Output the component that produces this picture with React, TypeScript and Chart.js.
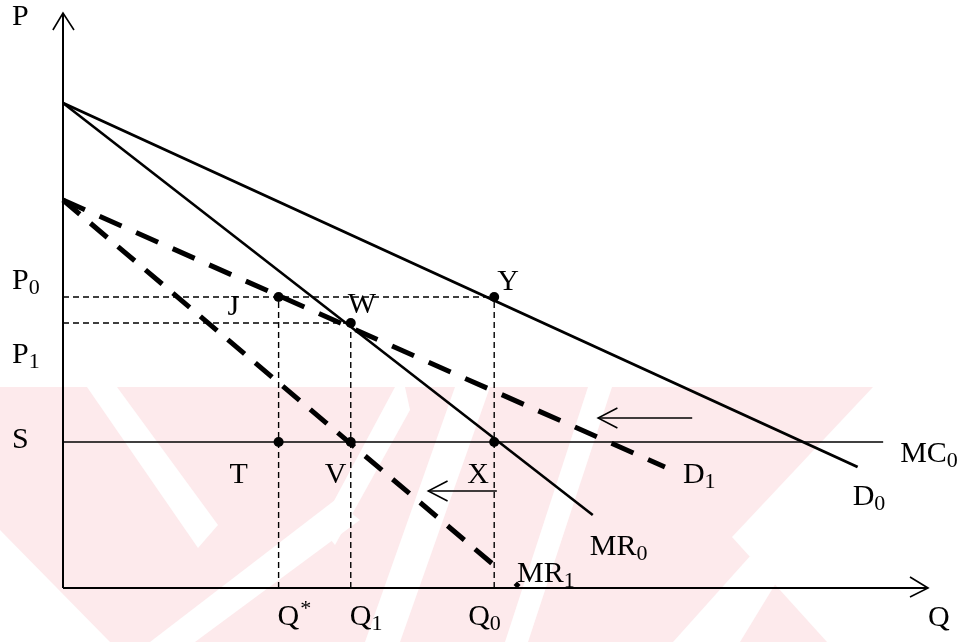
import React, { useEffect, useRef } from "react";
import { Chart, registerables } from "chart.js";

Chart.register(...registerables);

// ---- values (Q horizontal units, P vertical units) ----
const axisTopP = 115;
const axisEndQ = 98.3;
const pLevels = [58.2, 53.0, 29.2]; // P0, P1, S
const pLevelNames = ["P0", "P1", "S"];
const qLevels = [24.5, 32.7, 49.0]; // Q*, Q1, Q0
const qLevelNames = ["Q*", "Q1", "Q0"];
const curveNames = ["D0", "MR0", "D1", "MR1"];
const curveStartP = [97.0, 97.0, 77.6, 77.6];
const curveEndQ = [90.3, 60.2, 68.4, 49.9];
const curveEndP = [24.2, 14.6, 24.2, 3.2];
const mcEndQ = 93.2;
const pointNames = ["J", "W", "Y", "T", "V", "X"];
const pointQ = [24.5, 32.7, 49.0, 24.5, 32.7, 49.0];
const pointP = [58.2, 53.0, 58.2, 29.2, 29.2, 29.2];
const shiftArrowFromQ = [71.5, 49.3];
const shiftArrowToQ = [60.8, 41.5];
const shiftArrowP = [34.0, 19.4];
const markQ = 51.6;
const markP = 0.6;

const FONT = '"Liberation Serif", "Times New Roman", serif';

type Lbl = { main: string; sub?: string; sup?: string; x: number; y: number };

export default function App() {
  const ref = useRef<HTMLCanvasElement | null>(null);

  useEffect(() => {
    if (!ref.current) return;
    const black = "#000";
    const thinDash = [6, 4];

    const datasets: any[] = [];
    const line = (pts: { x: number; y: number }[], width: number, dash: number[] = []) =>
      datasets.push({
        data: pts,
        showLine: true,
        borderColor: black,
        borderWidth: width,
        borderDash: dash,
        pointRadius: 0,
        clip: false,
        borderCapStyle: "butt",
      });

    // axes
    line([{ x: 0, y: 0 }, { x: 0, y: axisTopP }], 2);
    line([{ x: -1.15, y: axisTopP - 3.4 }, { x: 0, y: axisTopP }, { x: 1.25, y: axisTopP - 3.4 }], 1.6);
    line([{ x: 0, y: 0 }, { x: axisEndQ, y: 0 }], 2);
    line([{ x: axisEndQ - 2.05, y: 2.2 }, { x: axisEndQ, y: 0 }, { x: axisEndQ - 2.05, y: -1.8 }], 1.6);

    // guide lines
    line([{ x: 0, y: pLevels[0] }, { x: qLevels[2], y: pLevels[0] }], 1.4, thinDash);
    line([{ x: 0, y: pLevels[1] }, { x: qLevels[1], y: pLevels[1] }], 1.4, thinDash);
    line([{ x: qLevels[0], y: 0 }, { x: qLevels[0], y: pLevels[0] }], 1.4, thinDash);
    line([{ x: qLevels[1], y: 0 }, { x: qLevels[1], y: pLevels[1] }], 1.4, thinDash);
    line([{ x: qLevels[2], y: 0 }, { x: qLevels[2], y: pLevels[0] }], 1.4, thinDash);

    // MC0
    line([{ x: 0, y: pLevels[2] }, { x: mcEndQ, y: pLevels[2] }], 1.6);

    // curves
    const widths = [3, 2.6, 5, 5];
    const dashes = [[], [], [24, 16], [22, 14]];
    curveNames.forEach((_, i) =>
      line([{ x: 0, y: curveStartP[i] }, { x: curveEndQ[i], y: curveEndP[i] }], widths[i], dashes[i])
    );

    // shift arrows
    shiftArrowFromQ.forEach((q, i) => {
      const p = shiftArrowP[i];
      const t = shiftArrowToQ[i];
      line([{ x: q, y: p }, { x: t, y: p }], 1.5);
      line([{ x: t + 2.2, y: p + 2 }, { x: t, y: p }, { x: t + 2.2, y: p - 2 }], 1.5);
    });

    // points
    datasets.push({
      data: pointQ.map((q, i) => ({ x: q, y: pointP[i] })),
      showLine: false,
      pointRadius: 5,
      pointBackgroundColor: black,
      pointBorderWidth: 0,
      clip: false,
    });
    datasets.push({
      data: [{ x: markQ, y: markP }],
      showLine: false,
      pointRadius: 3.5,
      pointStyle: "rectRot",
      pointBackgroundColor: black,
      pointBorderWidth: 0,
      clip: false,
    });

    const watermark = {
      id: "watermark",
      beforeDraw(chart: any) {
        const ctx = chart.ctx as CanvasRenderingContext2D;
        ctx.save();
        ctx.fillStyle = "#ffffff";
        ctx.fillRect(0, 0, chart.width, chart.height);
        ctx.fillStyle = "#fdeaec";
        ctx.fillRect(0, 387, 880, 255);
        ctx.fillStyle = "#ffffff";
        const polys: number[][][] = [
          [[87, 387], [117, 387], [218, 525], [198, 548]],
          [[0, 530], [0, 642], [110, 642]],
          [[150, 642], [195, 642], [360, 520], [335, 500]],
          [[320, 527], [335, 545], [410, 410], [405, 387], [395, 387]],
          [[365, 642], [400, 642], [490, 387], [455, 387]],
          [[505, 642], [528, 642], [612, 387], [588, 387]],
          [[873, 387], [880, 387], [880, 642], [827, 642], [732, 537]],
          [[673, 642], [740, 642], [790, 560], [760, 545]],
        ];
        polys.forEach((pg) => {
          ctx.beginPath();
          pg.forEach(([x, y], k) => (k ? ctx.lineTo(x, y) : ctx.moveTo(x, y)));
          ctx.closePath();
          ctx.fill();
        });
        ctx.restore();
      },
    };

    const labels = {
      id: "labels",
      afterDatasetsDraw(chart: any) {
        const ctx = chart.ctx as CanvasRenderingContext2D;
        const xs = chart.scales.x;
        const ys = chart.scales.y;
        const X = (q: number) => xs.getPixelForValue(q);
        const Y = (p: number) => ys.getPixelForValue(p);
        const base = Y(0);
        const left0 = X(0);
        const split = (s: string) => ({ main: s.slice(0, s.length - 1), tail: s.slice(-1) });
        const items: Lbl[] = [];
        items.push({ main: "P", x: 12, y: 25 });
        // P levels
        const pOff = [-8, 40, 6];
        pLevelNames.forEach((n, i) => {
          if (n.length > 1) {
            const s = split(n);
            items.push({ main: s.main, sub: s.tail, x: left0 - 51, y: Y(pLevels[i]) + pOff[i] });
          } else items.push({ main: n, x: left0 - 51, y: Y(pLevels[i]) + pOff[i] });
        });
        // Q levels
        const qOff = [-1, -1, -26];
        qLevelNames.forEach((n, i) => {
          const s = split(n);
          if (s.tail === "*") items.push({ main: s.main, sup: "*", x: X(qLevels[i]) + qOff[i], y: base + 37 });
          else items.push({ main: s.main, sub: s.tail, x: X(qLevels[i]) + qOff[i], y: base + 37 });
        });
        items.push({ main: "Q", x: X(axisEndQ), y: base + 38 });
        // points
        const ptOff = [[-51, 18], [-3, -10], [3, -7], [-49, 41], [-26, 41], [-27, 41]];
        pointNames.forEach((n, i) =>
          items.push({ main: n, x: X(pointQ[i]) + ptOff[i][0], y: Y(pointP[i]) + ptOff[i][1] })
        );
        // curve labels
        const cOff = [[-5, 38], [-3, 40], [18, 16], [15, 10]];
        curveNames.forEach((n, i) => {
          const s = split(n);
          items.push({ main: s.main, sub: s.tail, x: X(curveEndQ[i]) + cOff[i][0], y: Y(curveEndP[i]) + cOff[i][1] });
        });
        items.push({ main: "MC", sub: "0", x: X(mcEndQ) + 17, y: Y(pLevels[2]) + 20 });

        ctx.save();
        ctx.fillStyle = "#000";
        ctx.textBaseline = "alphabetic";
        ctx.textAlign = "left";
        items.forEach((it) => {
          ctx.font = `30px ${FONT}`;
          ctx.fillText(it.main, it.x, it.y);
          const w = ctx.measureText(it.main).width;
          if (it.sub) {
            ctx.font = `22px ${FONT}`;
            ctx.fillText(it.sub, it.x + w, it.y + 5);
          }
          if (it.sup) {
            ctx.font = `22px ${FONT}`;
            ctx.fillText(it.sup, it.x + w + 1, it.y - 10);
          }
        });
        ctx.restore();
      },
    };

    const chart = new Chart(ref.current, {
      type: "scatter",
      data: { datasets },
      options: {
        animation: false,
        responsive: true,
        maintainAspectRatio: false,
        layout: { padding: { left: 63, right: 29, top: 13, bottom: 54 } },
        plugins: { legend: { display: false }, tooltip: { enabled: false }, title: { display: false } },
        events: [],
        scales: {
          x: { type: "linear", min: 0, max: 100, display: false },
          y: { type: "linear", min: 0, max: axisTopP, display: false },
        },
      },
      plugins: [watermark, labels],
    });
    return () => chart.destroy();
  }, []);

  return (
    <div style={{ position: "fixed", left: 0, top: 0, width: 972, height: 642, background: "#fff" }}>
      <canvas ref={ref} />
    </div>
  );
}
